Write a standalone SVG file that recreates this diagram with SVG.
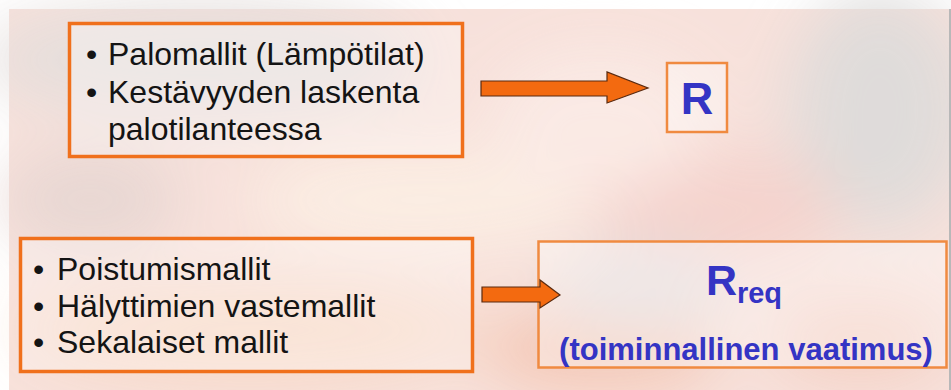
<svg xmlns="http://www.w3.org/2000/svg" width="951" height="390" viewBox="0 0 951 390">
<defs>
<style>
.box{fill:#ffffff;fill-opacity:0.3;stroke:#f0701c;stroke-width:3.5}
.box2{fill:#ffffff;fill-opacity:0.35;stroke:#f08a40;stroke-width:2.5}
.txt{font-family:"Liberation Sans",Arial,sans-serif;font-size:32px;fill:#141414}
.blue{font-family:"Liberation Sans",Arial,sans-serif;font-weight:bold;fill:#3434c4}
.arrow{fill:#f36a10;stroke:#5a2a10;stroke-width:1.2;stroke-linejoin:miter}
</style>
<filter id="blur" x="-50%" y="-50%" width="200%" height="200%"><feGaussianBlur stdDeviation="30"/></filter>
</defs>
<rect x="0" y="0" width="951" height="390" fill="#ffffff"/>
<g id="background">
<rect x="9" y="9" width="942" height="381" fill="#f7e1db"/>
<g filter="url(#blur)" opacity="0.9">
<ellipse cx="200" cy="60" rx="220" ry="60" fill="#e4dedc"/>
<ellipse cx="880" cy="110" rx="90" ry="120" fill="#dddbda"/>
<ellipse cx="420" cy="200" rx="170" ry="50" fill="#fcefe4"/>
<ellipse cx="90" cy="200" rx="90" ry="50" fill="#e6d6d2"/>
<ellipse cx="720" cy="210" rx="120" ry="60" fill="#f4d2cc"/>
<ellipse cx="250" cy="330" rx="230" ry="50" fill="#f8d8c4"/>
<ellipse cx="600" cy="350" rx="120" ry="40" fill="#f4c4b0"/>
<ellipse cx="860" cy="340" rx="90" ry="40" fill="#f4cdbf"/>
<ellipse cx="640" cy="290" rx="90" ry="40" fill="#e2dcdc"/>
<ellipse cx="600" cy="120" rx="110" ry="70" fill="#fbebe6"/>
</g>
<rect x="949" y="9" width="2" height="381" fill="#b8b8b8"/>
</g>
<g id="node-fire-models">
<rect class="box" x="69.5" y="23.5" width="393" height="133"/>
<text class="txt" x="86" y="65">•</text>
<text class="txt" x="108" y="65">Palomallit (Lämpötilat)</text>
<text class="txt" x="86" y="103">•</text>
<text class="txt" x="108" y="103">Kestävyyden laskenta</text>
<text class="txt" x="108" y="140">palotilanteessa</text>
</g>
<g id="node-R">
<rect class="box2" x="667" y="63" width="60" height="69"/>
<text class="blue" x="697" y="114" font-size="45" text-anchor="middle">R</text>
</g>
<g id="node-evac-models">
<rect class="box" x="20.5" y="238.5" width="452" height="133"/>
<text class="txt" x="33" y="280">•</text>
<text class="txt" x="57" y="280">Poistumismallit</text>
<text class="txt" x="33" y="317">•</text>
<text class="txt" x="57" y="317">Hälyttimien vastemallit</text>
<text class="txt" x="33" y="353">•</text>
<text class="txt" x="57" y="353">Sekalaiset mallit</text>
</g>
<g id="node-Rreq">
<rect class="box2" x="538.5" y="241.5" width="408" height="126"/>
<text class="blue" x="744" y="295" text-anchor="middle"><tspan font-size="43">R</tspan><tspan font-size="29" dy="8">req</tspan></text>
<text class="blue" x="746" y="360" font-size="31" text-anchor="middle">(toiminnallinen vaatimus)</text>
</g>
<g id="connectors">
<path class="arrow" d="M481,81 L607,81 L607,72 L648,88 L607,103 L607,96 L481,96 Z"/>
<path class="arrow" d="M482,287 L540,287 L540,280 L560,295 L540,308 L540,302 L482,302 Z"/>
</g>
</svg>
